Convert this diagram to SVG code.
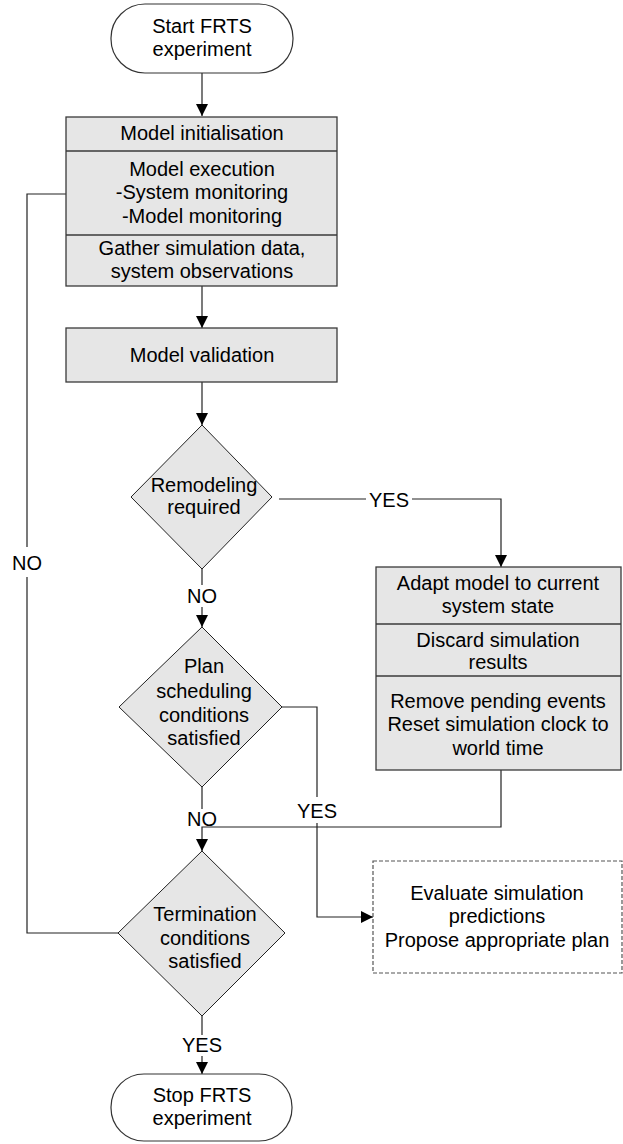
<svg xmlns="http://www.w3.org/2000/svg" width="623" height="1144" viewBox="0 0 623 1144">
<style>
text{font-family:"Liberation Sans",Arial,sans-serif;font-size:20px;fill:#000;text-anchor:middle}
.box{fill:#e6e6e6;stroke:#3a3a3a;stroke-width:1.3}
.div{stroke:#3a3a3a;stroke-width:1.3;fill:none}
.dia{fill:#e6e6e6;stroke:#222;stroke-width:1}
.term{fill:#fff;stroke:#333;stroke-width:1.2}
.dash{fill:#fff;stroke:#555;stroke-width:1.2;stroke-dasharray:4 2}
.c{fill:none;stroke:#222;stroke-width:1.2}
.lbl{}
</style>
<defs>
<marker id="ah" markerUnits="userSpaceOnUse" markerWidth="13" markerHeight="12" refX="12" refY="6" orient="auto">
<path d="M0,0 L12,6 L0,12 Z" fill="#000"/>
</marker>
</defs>

<g id="connectors">
<line class="c" x1="202" y1="73" x2="202" y2="116" marker-end="url(#ah)"/>
<line class="c" x1="202" y1="286" x2="202" y2="328" marker-end="url(#ah)"/>
<line class="c" x1="202" y1="382" x2="202" y2="425" marker-end="url(#ah)"/>
<line class="c" x1="279" y1="499" x2="366" y2="499"/>
<path class="c" d="M412,499 H501 V567" marker-end="url(#ah)"/>
<text x="389" y="507">YES</text>
<line class="c" x1="202" y1="569" x2="202" y2="585"/>
<text x="202" y="603">NO</text>
<line class="c" x1="202" y1="607" x2="202" y2="627" marker-end="url(#ah)"/>
<path class="c" d="M281,707 H317 V797"/>
<text x="317" y="818">YES</text>
<path class="c" d="M317,823 V917 H373" marker-end="url(#ah)"/>
<line class="c" x1="202" y1="787" x2="202" y2="809"/>
<text x="202" y="826">NO</text>
<path class="c" d="M501,770 V827 H202 V851" marker-end="url(#ah)"/>
<line class="c" x1="202" y1="1016" x2="202" y2="1035"/>
<text x="202" y="1052">YES</text>
<line class="c" x1="202" y1="1056" x2="202" y2="1074" marker-end="url(#ah)"/>
<path class="c" d="M118,933 H27 V577"/>
<text x="27" y="570">NO</text>
<path class="c" d="M27,547 V194 H66"/>
</g>

<g id="start">
<rect class="term" x="111" y="4" width="182" height="69" rx="34" ry="34"/>
<text x="202" y="33">Start FRTS</text>
<text x="202" y="56">experiment</text>
</g>

<g id="model-run">
<rect class="box" x="66" y="117" width="271" height="169"/>
<line class="div" x1="66" y1="151" x2="337" y2="151"/>
<line class="div" x1="66" y1="235" x2="337" y2="235"/>
<text x="202" y="140">Model initialisation</text>
<text x="202" y="176">Model execution</text>
<text x="202" y="199">-System monitoring</text>
<text x="202" y="223">-Model monitoring</text>
<text x="202" y="255">Gather simulation data,</text>
<text x="202" y="278">system observations</text>
</g>

<g id="validation">
<rect class="box" x="66" y="328" width="271" height="54"/>
<text x="202" y="362">Model validation</text>
</g>

<g id="remodeling">
<polygon class="dia" points="202,425 272,497 202,569 131,497"/>
<text x="204" y="492">Remodeling</text>
<text x="204" y="514">required</text>
</g>

<g id="adapt">
<rect class="box" x="376" y="567" width="245" height="203"/>
<line class="div" x1="376" y1="624" x2="621" y2="624"/>
<line class="div" x1="376" y1="676" x2="621" y2="676"/>
<text x="498" y="590">Adapt model to current</text>
<text x="498" y="613">system state</text>
<text x="498" y="647">Discard simulation</text>
<text x="498" y="669">results</text>
<text x="498" y="708">Remove pending events</text>
<text x="498" y="731">Reset simulation clock to</text>
<text x="498" y="755">world time</text>
</g>

<g id="plan">
<polygon class="dia" points="202,627 282,707 202,787 119,707"/>
<text x="204" y="673">Plan</text>
<text x="204" y="698">scheduling</text>
<text x="204" y="722">conditions</text>
<text x="204" y="745">satisfied</text>
</g>

<g id="evaluate">
<rect class="dash" x="373" y="861" width="249" height="112"/>
<text x="497" y="900">Evaluate simulation</text>
<text x="497" y="923">predictions</text>
<text x="497" y="947">Propose appropriate plan</text>
</g>

<g id="termination">
<polygon class="dia" points="202,851 285,933 202,1016 118,933"/>
<text x="205" y="921">Termination</text>
<text x="205" y="945">conditions</text>
<text x="205" y="968">satisfied</text>
</g>

<g id="stop">
<rect class="term" x="111" y="1074" width="181" height="67" rx="33" ry="33"/>
<text x="202" y="1102">Stop FRTS</text>
<text x="202" y="1125">experiment</text>
</g>
</svg>
